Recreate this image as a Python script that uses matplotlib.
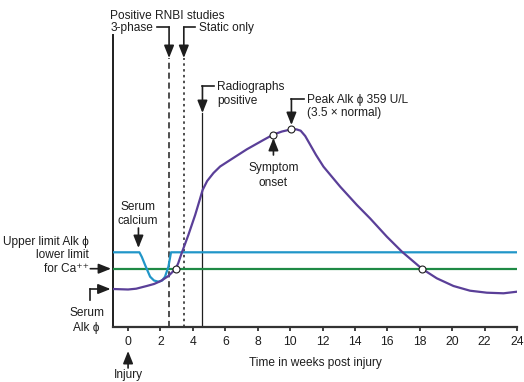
import matplotlib
matplotlib.use("Agg")
import matplotlib.pyplot as plt

plt.rcParams['font.family'] = ['Liberation Sans', 'DejaVu Sans']

# ---- data (weeks post injury, relative level) ----
alk_weeks = [-0.93, 0.0, 0.5, 1.15, 1.6, 2.02, 2.49, 2.94, 3.1, 3.31, 3.72, 4.14,
             4.4, 4.6, 4.88, 5.27, 5.68, 6.3, 7.33, 8.35, 8.97, 9.5, 10.08, 10.4,
             10.65, 10.93, 11.23, 11.6, 12.06, 13.09, 14.12, 14.94, 15.97, 16.9,
             18.13, 19.05, 20.08, 21.1, 22.14, 23.17, 24.0]
alk_values = [38, 37.5, 38.3, 41, 43, 46, 51, 58.3, 64, 74, 92, 112,
              126, 137, 146, 154, 160.5, 167, 177.7, 187, 192.5, 195.5, 197.7, 197.6,
              196.3, 191, 182.5, 172, 160.3, 140.3, 122, 108.5, 90.3, 75.3,
              58.3, 48.7, 41, 36.3, 34.3, 33.7, 35.3]

ca_weeks = [-0.93, 0.7, 0.85, 1.05, 1.36, 1.6, 1.87, 2.1, 2.28, 2.49, 2.65, 24.0]
ca_values = [74.7, 74.7, 70, 62, 50.3, 46.5, 45.3, 46.5, 50.3, 60.3, 74.7, 74.7]

limit_weeks = [-0.93, 24.0]
limit_values = [58.3, 58.3]

event_weeks = [2.94, 8.97, 10.08, 18.13]
event_values = [58.3, 192.5, 197.7, 58.3]

rnbi_3phase = 2.53
rnbi_static = 3.44
radiograph = 4.59

xticks = list(range(0, 25, 2))

PURPLE = "#5a3f98"
BLUE = "#2196c8"
GREEN = "#1f8a45"
INK = "#1e1e1e"

fig = plt.figure(figsize=(5.24, 3.82), dpi=100)
ax = fig.add_axes([113 / 524, (382 - 327) / 382, 404 / 524, 327 / 382])
ax.set_xlim(-0.93, 24.0)
ax.set_ylim(0, 327)

for s in ['top', 'right']:
    ax.spines[s].set_visible(False)
ax.spines['left'].set_bounds(0, 292)
ax.spines['left'].set_linewidth(1.4)
ax.spines['bottom'].set_linewidth(1.6)
ax.spines['left'].set_color(INK)
ax.spines['bottom'].set_color("#333333")
ax.set_yticks([])
ax.set_xticks(xticks)
ax.set_xticklabels([str(t) for t in xticks])
ax.tick_params(axis='x', direction='out', length=3, width=1.2, pad=3.5,
               labelsize=8.8, colors=INK)

# vertical event lines
ax.plot([rnbi_3phase, rnbi_3phase], [0, 269], color=INK, lw=1.1,
        dashes=(4, 2.5))
ax.plot([rnbi_static, rnbi_static], [0, 269], color=INK, lw=1.1,
        dashes=(1.6, 2.2))
ax.plot([radiograph, radiograph], [0, 214], color=INK, lw=0.9)

# series
ax.plot(limit_weeks, limit_values, color=GREEN, lw=1.6, zorder=3)
ax.plot(ca_weeks, ca_values, color=BLUE, lw=1.6, zorder=3,
        solid_joinstyle='round')
ax.plot(alk_weeks, alk_values, color=PURPLE, lw=1.6, zorder=4,
        solid_joinstyle='round')
ax.plot(event_weeks, event_values, 'o', ms=5, mfc='white', mec=INK, mew=0.8,
        zorder=5)

ARROW = dict(arrowstyle='-|>,head_length=0.75,head_width=0.3', color=INK,
             lw=1.2, shrinkA=0, shrinkB=0)


def elbow(pts):
    xs = [p[0] for p in pts]
    ys = [p[1] for p in pts]
    if len(pts) > 2:
        ax.plot(xs[:-1], ys[:-1], color=INK, lw=1.2, clip_on=False,
                solid_joinstyle='miter')
    ax.annotate('', xy=pts[-1], xytext=pts[-2], arrowprops=ARROW,
                annotation_clip=False)


FS = 8.6
def txt(x, y, s, ha='left'):
    ax.text(x, y, s, ha=ha, va='center', fontsize=FS, color=INK, clip_on=False)


txt(-1.11, 311, "Positive RNBI studies")
txt(-1.11, 299, "3-phase")
elbow([(1.79, 300), (rnbi_3phase, 300), (rnbi_3phase, 269)])
txt(4.38, 299, "Static only")
elbow([(4.14, 300), (rnbi_static, 300), (rnbi_static, 269)])

txt(5.49, 240, "Radiographs")
txt(5.49, 226, "positive")
elbow([(5.31, 241), (radiograph, 241), (radiograph, 214)])

txt(11.05, 227, "Peak Alk \u03d5 359 U/L")
txt(11.05, 214, "(3.5 \u00d7 normal)")
elbow([(10.86, 228), (10.08, 228), (10.08, 202)])

txt(8.97, 159, "Symptom", ha='center')
txt(8.97, 144, "onset", ha='center')
elbow([(8.97, 172), (8.97, 189)])

txt(0.6, 120, "Serum", ha='center')
txt(0.6, 106, "calcium", ha='center')
elbow([(0.64, 99), (0.64, 79)])

txt(-2.4, 85, "Upper limit Alk \u03d5", ha='right')
txt(-2.4, 72, "lower limit", ha='right')
txt(-2.4, 58, "for Ca\u207a\u207a", ha='right')
elbow([(-2.33, 58.3), (-1.05, 58.3)])

txt(-2.55, 14.5, "Serum", ha='center')
txt(-2.55, -0.5, "Alk \u03d5", ha='center')
elbow([(-2.35, 27), (-2.35, 38), (-1.08, 38)])

elbow([(0, -41), (0, -24)])
txt(0, -48, "Injury", ha='center')

txt(11.55, -36, "Time in weeks post injury", ha='center')

fig.savefig("out.png", dpi=100)
